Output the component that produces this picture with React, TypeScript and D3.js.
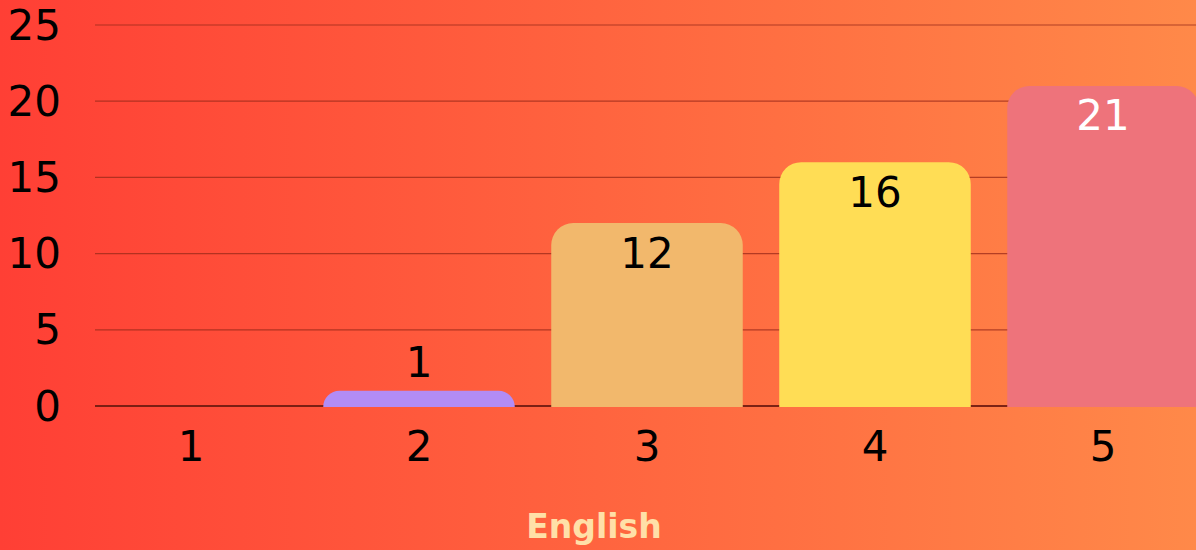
import React from "react";
import * as d3 from "d3";

const categories = ["1", "2", "3", "4", "5"];
const values = [0, 1, 12, 16, 21];
const barColors = ["#b28cf5", "#b28cf5", "#f2b86c", "#ffdd55", "#ee737b"];
const labelColors = ["#000000", "#000000", "#000000", "#000000", "#ffffff"];
const yTicks = [0, 5, 10, 15, 20, 25];
const axisTitle = "English";

const W = 1196;
const H = 550;

function topRoundedRect(x: number, y: number, w: number, h: number, r: number) {
  const rr = Math.min(r, h, w / 2);
  return `M${x},${y + h}V${y + rr}A${rr},${rr} 0 0 1 ${x + rr},${y}H${x + w - rr}A${rr},${rr} 0 0 1 ${x + w},${y + rr}V${y + h}Z`;
}

export default function App() {
  const x = d3.scaleBand<string>().domain(categories).range([77, 1217]).paddingInner(0.16).paddingOuter(0.08);
  const y = d3.scaleLinear().domain([0, 25]).range([406, 25]);
  const font = "'DejaVu Sans', sans-serif";
  return (
    <svg width={W} height={H} style={{ position: "fixed", left: 0, top: 0 }} fontFamily={font}>
      <defs>
        <linearGradient id="bg" x1="0" y1="0" x2="1" y2="0">
          <stop offset="0" stopColor="#ff3f35" />
          <stop offset="1" stopColor="#ff8949" />
        </linearGradient>
        <clipPath id="clip">
          <rect x={0} y={0} width={W} height={H} />
        </clipPath>
      </defs>
      <rect x={0} y={0} width={W} height={H} fill="url(#bg)" />
      {yTicks.map((t) => (
        <g key={t}>
          <line
            x1={95}
            x2={W}
            y1={y(t)}
            y2={y(t)}
            stroke={t === 0 ? "#6e1a10" : "#9a2a1a"}
            strokeOpacity={t === 0 ? 0.9 : 0.75}
            strokeWidth={t === 0 ? 2 : 1.2}
          />
          <text x={61} y={y(t)} textAnchor="end" dominantBaseline="central" fontSize={42} fill="#000">
            {t}
          </text>
        </g>
      ))}
      <g clipPath="url(#clip)">
        {categories.map((c, i) => {
          const v = values[i];
          if (v <= 0) return null;
          const bx = x(c)!;
          const bw = x.bandwidth();
          const top = y(v);
          const h = y(0) - top + 1;
          return <path key={c} d={topRoundedRect(bx, top, bw, h, 22)} fill={barColors[i]} />;
        })}
      </g>
      {categories.map((c, i) => {
        const v = values[i];
        if (v <= 0) return null;
        const cx = x(c)! + x.bandwidth() / 2;
        const top = y(v);
        const inside = y(0) - top > 60;
        const ly = inside ? top + 30 : top - 28;
        return (
          <text key={c} x={cx} y={ly} textAnchor="middle" dominantBaseline="central" fontSize={42} fill={labelColors[i]}>
            {v}
          </text>
        );
      })}
      {categories.map((c) => (
        <text key={c} x={x(c)! + x.bandwidth() / 2} y={446} textAnchor="middle" dominantBaseline="central" fontSize={42} fill="#000">
          {c}
        </text>
      ))}
      <text x={594} y={538} textAnchor="middle" fontSize={33} fontWeight="bold" fill="#ffe0a8">
        {axisTitle}
      </text>
    </svg>
  );
}
